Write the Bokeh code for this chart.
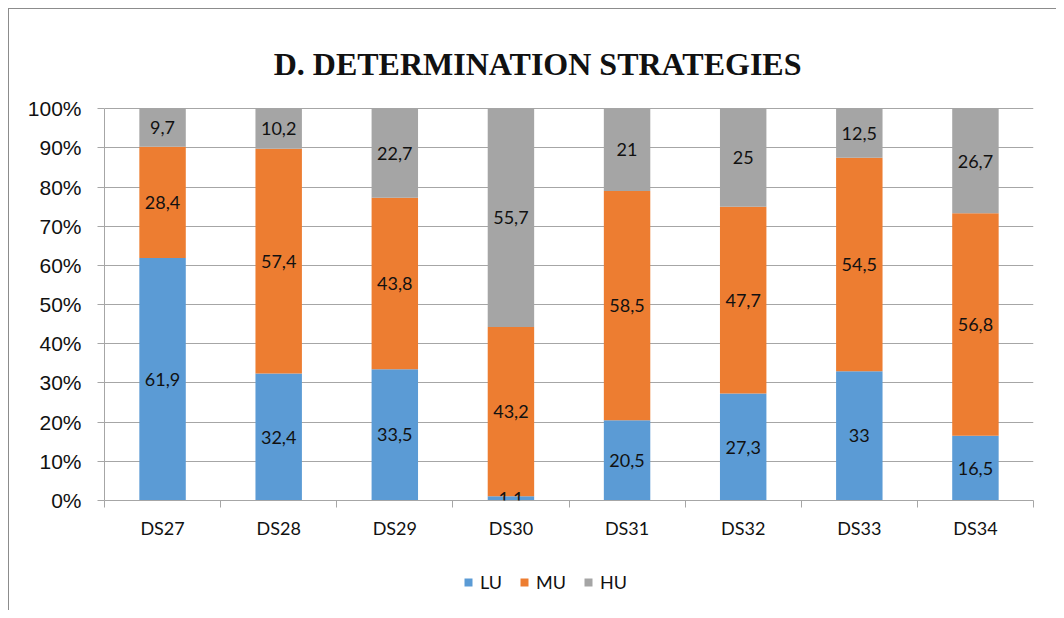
from bokeh.plotting import figure
from bokeh.layouts import column
from bokeh.models import (ColumnDataSource, FixedTicker, PrintfTickFormatter, Label,
                          LabelSet, Legend, LegendItem, Range1d)
from bokeh.core.properties import value
from bokeh.embed import file_html
from bokeh.resources import INLINE

categories = ["DS27", "DS28", "DS29", "DS30", "DS31", "DS32", "DS33", "DS34"]
LU = [61.9, 32.4, 33.5, 1.1, 20.5, 27.3, 33.0, 16.5]
MU = [28.4, 57.4, 43.8, 43.2, 58.5, 47.7, 54.5, 56.8]
HU = [9.7, 10.2, 22.7, 55.7, 21.0, 25.0, 12.5, 26.7]
series = ["LU", "MU", "HU"]
colors = ["#5B9BD5", "#ED7D31", "#A5A5A5"]
y_ticks = [0, 10, 20, 30, 40, 50, 60, 70, 80, 90, 100]
title_text = "D. DETERMINATION STRATEGIES"

n = len(categories)
xs = [i + 0.5 for i in range(n)]
src = ColumnDataSource(dict(x=xs, LU=LU, MU=MU, HU=HU))

FRAME_W, FRAME_H, PLOT_H = 928, 490, 391
px = PLOT_H / 100.0                      # pixels per percent
y_max = FRAME_H / px                     # frame extends above 100% to hold the title

border = "1px solid #8c8c8c"
p = figure(width=1047, height=535, output_backend="svg", toolbar_location=None,
           x_range=Range1d(0, n), y_range=Range1d(0, y_max),
           min_border_left=95, min_border_right=24, min_border_top=0, min_border_bottom=45)
p.frame_width = FRAME_W
p.frame_height = FRAME_H
p.outline_line_color = None
p.background_fill_color = "white"
p.border_fill_color = "white"
p.styles = {"border-left": border, "border-top": border}

renderers = p.vbar_stack(series, x="x", width=0.4, source=src, color=colors, line_color=None)

# data labels
lab_x, lab_y, lab_t = [], [], []
for i in range(n):
    base = 0.0
    for vals in (LU, MU, HU):
        v = vals[i]
        lab_x.append(xs[i])
        lab_y.append(base + v / 2.0)
        lab_t.append(f"{v:g}".replace(".", ","))
        base += v
lsrc = ColumnDataSource(dict(x=lab_x, y=lab_y, t=lab_t))
p.add_layout(LabelSet(x="x", y="y", text="t", source=lsrc, text_align="center",
                      text_baseline="middle", text_font=value("Lato"),
                      text_font_size="18px", text_color="#111111"))

# title (inside the frame, above the 100% line)
p.add_layout(Label(x=1.457, y=100 + 45 / px, text=title_text,
                   text_align="left", text_baseline="alphabetic",
                   text_font="Liberation Serif", text_font_style="bold",
                   text_font_size="32px", text_color="#111111"))

# axes
grey = "#a6a6a6"
p.xaxis.ticker = FixedTicker(ticks=xs, minor_ticks=list(range(n + 1)))
p.xaxis.major_label_overrides = {x: c for x, c in zip(xs, categories)}
p.xaxis.major_tick_out = 0
p.xaxis.major_tick_in = 0
p.xaxis.minor_tick_out = 7
p.xaxis.minor_tick_in = 0
p.xaxis.minor_tick_line_color = grey
p.xaxis.axis_line_color = grey
p.xaxis.major_label_text_font = "Lato"
p.xaxis.major_label_text_font_size = "18px"
p.xaxis.major_label_text_color = "#111111"
p.xaxis.major_label_standoff = 9

p.yaxis.ticker = FixedTicker(ticks=y_ticks)
p.yaxis.bounds = (0, 100)
p.yaxis.formatter = PrintfTickFormatter(format="%d%%")
p.yaxis.major_tick_out = 7
p.yaxis.major_tick_in = 0
p.yaxis.minor_tick_line_color = None
p.yaxis.major_tick_line_color = grey
p.yaxis.axis_line_color = grey
p.yaxis.major_label_text_font = "Liberation Sans"
p.yaxis.major_label_text_font_size = "21px"
p.yaxis.major_label_text_color = "#111111"
p.yaxis.major_label_standoff = 16

p.xgrid.grid_line_color = None
p.ygrid.grid_line_color = grey
p.ygrid.grid_line_width = 1

# legend strip below the chart (hidden copies of the series supply the legend swatches)
lg = figure(width=1047, height=66, output_backend="svg", toolbar_location=None,
            x_axis_type=None, y_axis_type=None, x_range=Range1d(0, n), y_range=Range1d(0, 100),
            min_border=0)
lg.outline_line_color = None
lg.xgrid.grid_line_color = None
lg.ygrid.grid_line_color = None
lg.background_fill_color = "white"
lg.border_fill_color = "white"
lg.styles = {"border-left": border}
lg_renderers = lg.vbar_stack(series, x="x", width=0.4, source=src, color=colors,
                             line_color=None, visible=False)
legend = Legend(items=[LegendItem(label=s, renderers=[r]) for s, r in zip(series, lg_renderers)],
                orientation="horizontal", location=(359, 17),
                glyph_width=10, glyph_height=10, label_standoff=7, spacing=17,
                padding=0, margin=0, border_line_color=None, background_fill_alpha=0,
                inactive_fill_alpha=0,
                label_text_font="Lato", label_text_font_size="18px", label_text_color="#111111")
lg.add_layout(legend, "center")

layout = column(p, lg, spacing=0)
layout.styles = {"margin-left": "8px", "margin-top": "8px"}

open("out.html", "w").write(file_html(layout, INLINE))
